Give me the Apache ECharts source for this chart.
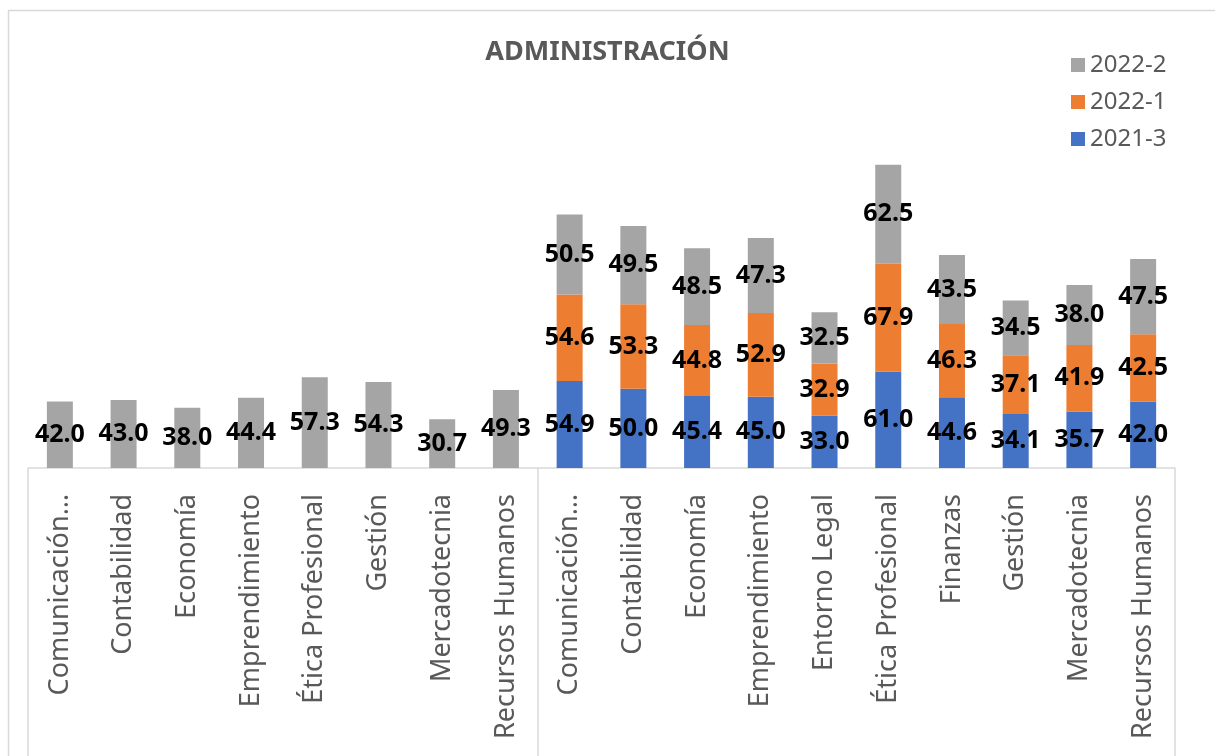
<!DOCTYPE html>
<html>
<head>
<meta charset="utf-8">
<script src="https://cdn.jsdelivr.net/npm/echarts@6/dist/echarts.min.js"></script>
<style>
  html, body { margin: 0; padding: 0; background: #fff; }
  #chart { width: 1215px; height: 756px; }
</style>
</head>
<body>
<div id="chart"></div>
<script>
const categories = [
  'Comunicación…', 'Contabilidad', 'Economía', 'Emprendimiento', 'Ética Profesional',
  'Gestión', 'Mercadotecnia', 'Recursos Humanos',
  'Comunicación…', 'Contabilidad', 'Economía', 'Emprendimiento', 'Entorno Legal',
  'Ética Profesional', 'Finanzas', 'Gestión', 'Mercadotecnia', 'Recursos Humanos'
];
const s2021_3 = [null, null, null, null, null, null, null, null,
  54.9, 50.0, 45.4, 45.0, 33.0, 61.0, 44.6, 34.1, 35.7, 42.0];
const s2022_1 = [null, null, null, null, null, null, null, null,
  54.6, 53.3, 44.8, 52.9, 32.9, 67.9, 46.3, 37.1, 41.9, 42.5];
const s2022_2 = [42.0, 43.0, 38.0, 44.4, 57.3, 54.3, 30.7, 49.3,
  50.5, 49.5, 48.5, 47.3, 32.5, 62.5, 43.5, 34.5, 38.0, 47.5];
// group boundaries on the category axis (tick indexes)
const groupEdges = [0, 8, 18];

const chart = echarts.init(document.getElementById('chart'), null, { renderer: 'canvas' });

const labelStyle = {
  show: true,
  position: 'inside',
  color: '#000',
  fontWeight: 'bold',
  fontSize: 25,
  fontFamily: 'Noto Sans',
  formatter: p => p.value == null ? '' : p.value.toFixed(1)
};

function bar(name, data, color) {
  return {
    name: name,
    type: 'bar',
    stack: 'total',
    data: data,
    barWidth: 26,
    itemStyle: { color: color },
    label: labelStyle
  };
}

chart.setOption({
  animation: false,
  backgroundColor: '#fff',
  title: {
    text: 'ADMINISTRACIÓN',
    left: 'center',
    top: 34,
    textStyle: { color: '#595959', fontSize: 27, fontWeight: 'bold', fontFamily: 'Noto Sans' }
  },
  legend: {
    orient: 'vertical',
    left: 1066,
    top: 48,
    itemWidth: 14,
    itemHeight: 14,
    itemGap: 13,
    icon: 'rect',
    data: ['2022-2', '2022-1', '2021-3'],
    textStyle: { color: '#595959', fontSize: 24, fontFamily: 'Noto Sans' }
  },
  grid: { left: 28, right: 40, top: 72, bottom: 288, containLabel: false },
  xAxis: {
    type: 'category',
    data: categories,
    axisLine: { lineStyle: { color: '#d9d9d9', width: 1.5 } },
    axisTick: {
      show: true,
      length: 290,
      interval: (i) => groupEdges.includes(i),
      lineStyle: { color: '#d9d9d9', width: 1.5 }
    },
    axisLabel: {
      rotate: 90,
      interval: 0,
      margin: 26,
      color: '#595959',
      fontSize: 27,
      fontFamily: 'Noto Sans'
    }
  },
  yAxis: {
    type: 'value',
    min: 0,
    max: 250,
    show: false
  },
  graphic: [{
    type: 'rect',
    shape: { x: 8.5, y: 10.5, width: 1220, height: 760 },
    style: { fill: null, stroke: '#d9d9d9', lineWidth: 1.5 },
    silent: true
  }],
  series: [
    bar('2021-3', s2021_3, '#4472C4'),
    bar('2022-1', s2022_1, '#ED7D31'),
    bar('2022-2', s2022_2, '#A5A5A5')
  ]
});
</script>
</body>
</html>
